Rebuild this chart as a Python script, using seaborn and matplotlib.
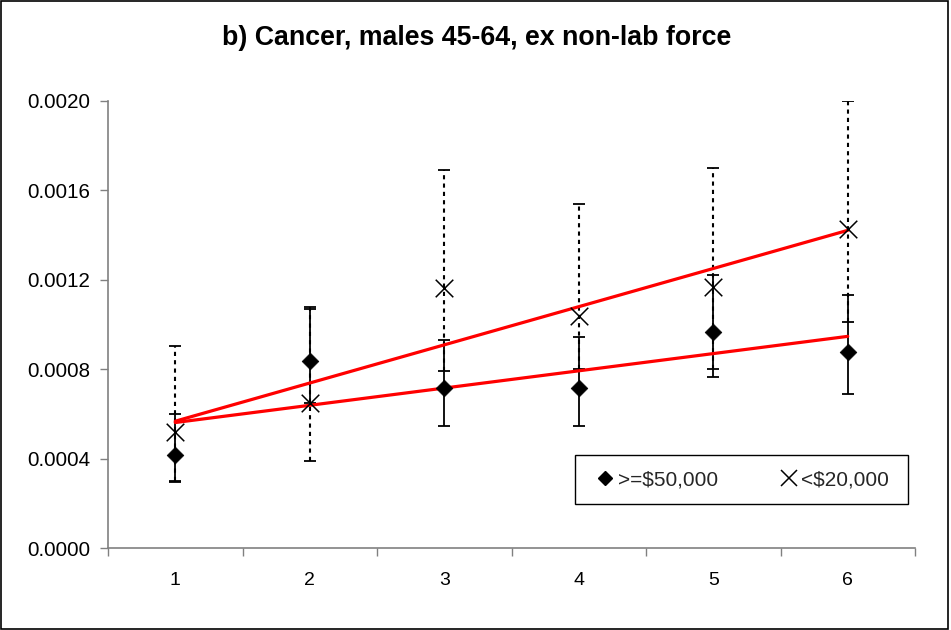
import numpy as np
import pandas as pd
import matplotlib
matplotlib.use("Agg")
import matplotlib.pyplot as plt
from matplotlib.ticker import FormatStrFormatter, FixedLocator
from matplotlib.lines import Line2D
from matplotlib.patches import Rectangle
import seaborn as sns

# ---- data ----
categories = [1, 2, 3, 4, 5, 6]
rich_rate = [0.000416, 0.000836, 0.000714, 0.000716, 0.000965, 0.000878]
rich_low = [0.000297, 0.000650, 0.000546, 0.000546, 0.000766, 0.000689]
rich_high = [0.000600, 0.001080, 0.000931, 0.000943, 0.001220, 0.001130]
poor_rate = [0.000518, 0.000650, 0.001162, 0.001040, 0.001170, 0.001426]
poor_low = [0.000300, 0.000390, 0.000793, 0.000800, 0.000800, 0.001010]
poor_high = [0.000905, 0.001070, 0.001690, 0.001540, 0.001700, 0.002000]
series_labels = [">=$50,000", "<$20,000"]
title = "b) Cancer, males 45-64, ex non-lab force"
y_ticks = [0.0, 0.0004, 0.0008, 0.0012, 0.0016, 0.0020]

sns.set_theme(style="white")
plt.rcParams["font.family"] = ["Liberation Sans", "DejaVu Sans"]

rich = pd.DataFrame({"x": categories, "y": rich_rate, "lo": rich_low, "hi": rich_high})
poor = pd.DataFrame({"x": categories, "y": poor_rate, "lo": poor_low, "hi": poor_high})

fig = plt.figure(figsize=(9.51, 6.30), dpi=100)
AX_L, AX_R, AX_T, AX_B = 108, 915, 101, 548
ax = fig.add_axes([AX_L / 951, (630 - AX_B) / 630, (AX_R - AX_L) / 951, (AX_B - AX_T) / 630])

# error bars
eb1 = ax.errorbar(rich["x"], rich["y"],
                  yerr=[rich["y"] - rich["lo"], rich["hi"] - rich["y"]],
                  fmt="none", ecolor="black", elinewidth=1.3, capsize=4.5,
                  capthick=1.3, zorder=2)
eb2 = ax.errorbar(poor["x"], poor["y"],
                  yerr=[poor["y"] - poor["lo"], poor["hi"] - poor["y"]],
                  fmt="none", ecolor="black", elinewidth=1.5, capsize=4.5,
                  capthick=1.3, zorder=2)
for lc in eb2[2]:
    lc.set_linestyle((0, (2.0, 2.0)))

# trend lines
sns.regplot(data=rich, x="x", y="y", ax=ax, scatter=False, ci=None,
            color="#ff0000", line_kws={"linewidth": 2.3, "zorder": 3})
sns.regplot(data=poor, x="x", y="y", ax=ax, scatter=False, ci=None,
            color="#ff0000", line_kws={"linewidth": 2.3, "zorder": 3})

# points
sns.scatterplot(data=rich, x="x", y="y", ax=ax, marker="D", s=72,
                color="black", edgecolor="black", linewidth=0.5, zorder=4)
sns.scatterplot(data=poor, x="x", y="y", ax=ax, marker="x", s=160,
                color="black", linewidth=1.1, zorder=4)

ax.set_xlim(0.5, 6.5)
ax.set_ylim(0, 0.002)
ax.set_xlabel("")
ax.set_ylabel("")

ax.xaxis.set_major_locator(FixedLocator(categories))
ax.xaxis.set_minor_locator(FixedLocator([c + 0.5 for c in [0] + categories]))
ax.set_xticklabels([str(c) for c in categories])
ax.tick_params(axis="x", which="major", length=0, pad=17, labelsize=14,
               labelcolor="black")
ax.tick_params(axis="x", which="minor", length=6, width=1, color="#808080",
               direction="out", bottom=True)
ax.set_yticks(y_ticks)
ax.yaxis.set_major_formatter(FormatStrFormatter("%.4f"))
ax.tick_params(axis="y", length=6, width=1, color="#808080", direction="out",
               left=True, labelsize=14.8, labelcolor="black", pad=7)

for s in ["top", "right"]:
    ax.spines[s].set_visible(False)
for s in ["left", "bottom"]:
    ax.spines[s].set_color("#808080")
    ax.spines[s].set_linewidth(1.2)

fig.text(477 / 951, 1 - 38 / 630, title, ha="center", va="center",
         fontsize=19.3, fontweight="bold", color="black")

# legend: frame drawn separately, entries placed inside
W, H = AX_R - AX_L, AX_B - AX_T
ax.add_patch(Rectangle(((575 - AX_L) / W, (AX_B - 504) / H),
                       (908 - 575) / W, (504 - 455) / H,
                       transform=ax.transAxes, fill=True, facecolor="white",
                       edgecolor="black", linewidth=1.0, zorder=5,
                       clip_on=False))
handles = [
    Line2D([], [], linestyle="none", marker="D", markersize=7.5,
           color="black"),
    Line2D([], [], linestyle="none", marker="x", markersize=12,
           color="black", markeredgewidth=1.1),
]
leg = ax.legend(handles, series_labels, ncol=2, loc="center left",
                bbox_to_anchor=((597 - AX_L) / W, (AX_B - 480) / H),
                frameon=False, fontsize=15,
                handlelength=0.8, handletextpad=0.2, columnspacing=3.0,
                borderpad=0, borderaxespad=0)
leg.set_zorder(6)

fig.patches.append(Rectangle((0.001, 0.002), 0.996, 0.996,
                             transform=fig.transFigure, fill=False,
                             edgecolor="black", linewidth=1.2))

fig.savefig("out.png", dpi=100, facecolor="white")
